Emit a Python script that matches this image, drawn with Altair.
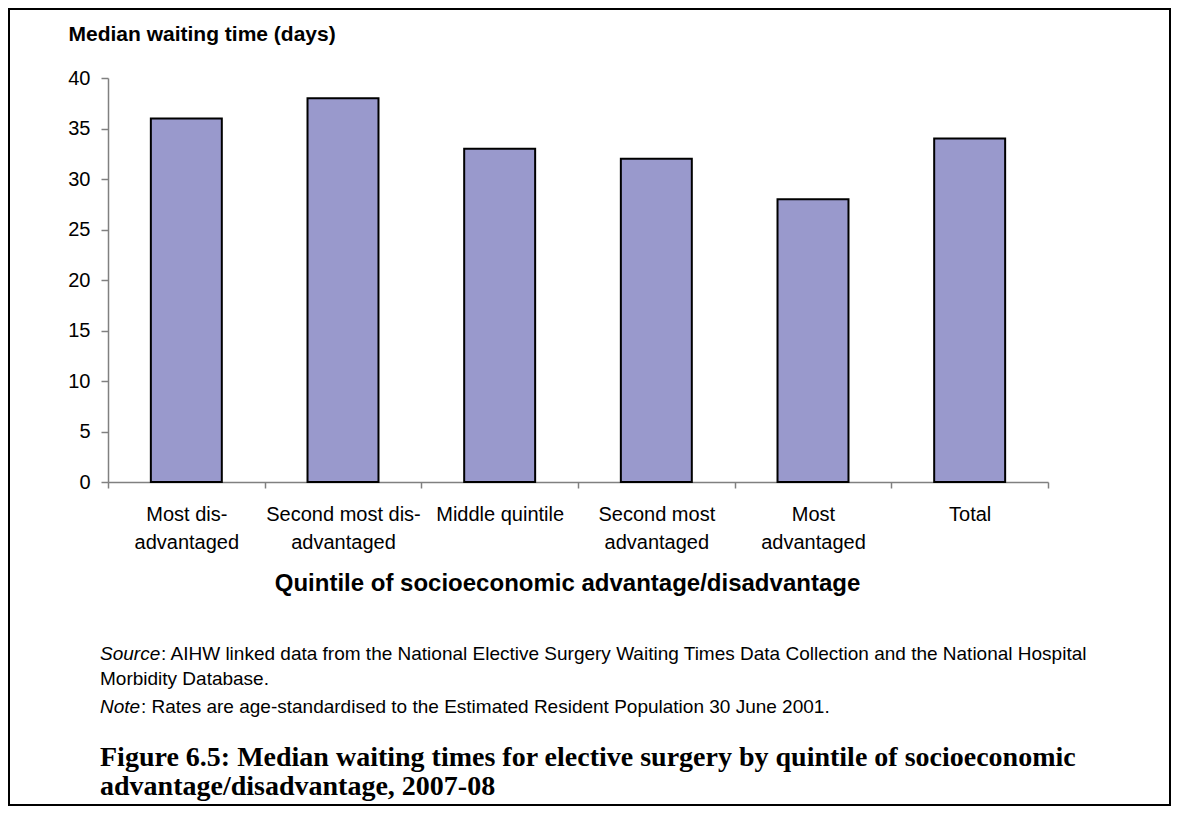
import altair as alt
import pandas as pd

# ---- data ----
categories = ["Most dis-|advantaged", "Second most dis-|advantaged", "Middle quintile",
              "Second most|advantaged", "Most|advantaged", "Total"]
values = [36, 38, 33, 32, 28, 34]
y_ticks = [0, 5, 10, 15, 20, 25, 30, 35, 40]

y_title = "Median waiting time (days)"
x_title = "Quintile of socioeconomic advantage/disadvantage"
source_label = "Source"
source_lines = [": AIHW linked data from the National Elective Surgery Waiting Times Data Collection and the National Hospital",
                "Morbidity Database."]
note_label = "Note"
note_line = ": Rates are age-standardised to the Estimated Resident Population 30 June 2001."
caption_lines = ["Figure 6.5: Median waiting times for elective surgery by quintile of socioeconomic",
                 "advantage/disadvantage, 2007-08"]

W, H = 940, 404
SANS = "Liberation Sans"
SERIF = "Liberation Serif"
AXIS_GREY = "#808080"

df = pd.DataFrame({"cat": categories, "val": values})

bars = alt.Chart(df).mark_bar(
    fill="#9999cc", stroke="black", strokeWidth=2,
    width=alt.RelativeBandSize(0.453)
).encode(
    x=alt.X("cat:N", sort=categories,
            scale=alt.Scale(paddingInner=0, paddingOuter=0),
            axis=alt.Axis(
                title=x_title, titleFont=SANS, titleFontSize=24, titleFontWeight="bold",
                titleColor="black", titleX=459, titleY=108, titleAlign="center",
                titleBaseline="alphabetic", titleAnchor="start",
                labelExpr="isValid(datum.value) ? split(datum.value, '|') : ''",
                labelAngle=0,
                labelFont=SANS, labelFontSize=20, labelColor="black",
                labelLineHeight=28, labelPadding=16, labelBaseline="top",
                tickBand="extent", tickSize=6, tickColor=AXIS_GREY, tickWidth=1.5,
                domainColor=AXIS_GREY, domainWidth=1.5, grid=False)),
    y=alt.Y("val:Q", scale=alt.Scale(domain=[0, 40], nice=False),
            axis=alt.Axis(
                values=y_ticks, title=y_title, titleFont=SANS, titleFontSize=21,
                titleFontWeight="bold", titleColor="black", titleAngle=0,
                titleAlign="left", titleBaseline="alphabetic", titleX=-40, titleY=-38,
                labelFont=SANS, labelFontSize=20, labelColor="black", labelPadding=11,
                tickSize=7, tickColor=AXIS_GREY, tickWidth=1.5,
                domainColor=AXIS_GREY, domainWidth=1.5, grid=False)),
)


def txt(s, x, y, size, font=SANS, weight="normal", style="normal"):
    return alt.Chart(pd.DataFrame({"t": [s]})).mark_text(
        align="left", baseline="alphabetic", font=font, fontSize=size,
        fontWeight=weight, fontStyle=style, color="black"
    ).encode(x=alt.value(x), y=alt.value(y), text="t:N")


src_x = -8
texts = [
    txt(source_label, src_x, 582, 19, style="italic"),
    txt(source_lines[0], src_x + 61, 582, 19),
    txt(source_lines[1], src_x, 607, 19),
    txt(note_label, src_x, 635, 19, style="italic"),
    txt(note_line, src_x + 41, 635, 19),
    txt(caption_lines[0], src_x, 688, 28, font=SERIF, weight="bold"),
    txt(caption_lines[1], src_x, 717, 28, font=SERIF, weight="bold"),
]

frame = alt.Chart(pd.DataFrame({"a": [0]})).mark_rect(
    fillOpacity=0, stroke="black", strokeWidth=2
).encode(x=alt.value(-99), x2=alt.value(1062), y=alt.value(-69), y2=alt.value(727))

chart = alt.layer(bars, frame, *texts).properties(
    width=W, height=H,
    padding={"left": 100, "top": 70, "right": 123, "bottom": 324},
    autosize=alt.AutoSizeParams(type="none"),
    background="white",
).configure_view(strokeWidth=0)

chart.save("out.html", embed_options={"renderer": "svg", "actions": False})
